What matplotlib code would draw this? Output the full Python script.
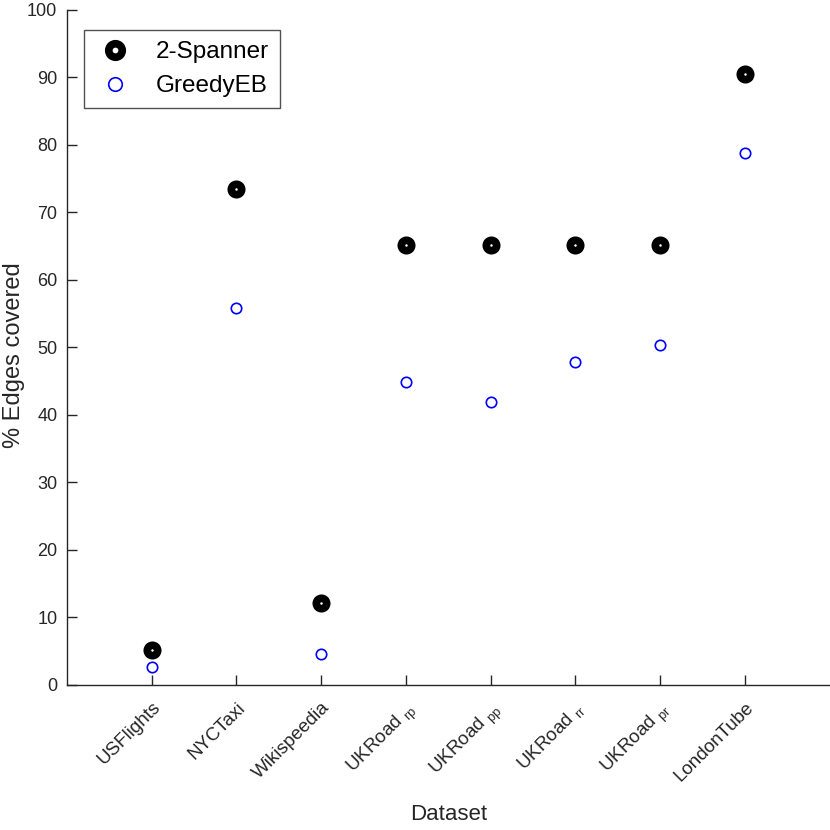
import matplotlib
matplotlib.use('Agg')
import matplotlib.pyplot as plt

# Data
datasets = ['USFlights', 'NYCTaxi', 'Wikispeedia',
            r'UKRoad $_{\mathregular{rp}}$', r'UKRoad $_{\mathregular{pp}}$',
            r'UKRoad $_{\mathregular{rr}}$', r'UKRoad $_{\mathregular{pr}}$',
            'LondonTube']
spanner = [5.2, 73.5, 12.1, 65.2, 65.2, 65.2, 65.2, 90.5]
greedy_eb = [2.7, 55.9, 4.6, 44.9, 41.9, 47.9, 50.4, 78.8]

plt.rcParams['font.family'] = ['Liberation Sans', 'DejaVu Sans']
plt.rcParams['mathtext.fontset'] = 'custom'
plt.rcParams['mathtext.rm'] = 'Liberation Sans'

fig = plt.figure(figsize=(8.3, 8.3), dpi=100)
ax = fig.add_axes([0.0807, 0.1747, 0.919, 0.8133])

x = list(range(1, len(datasets) + 1))
ax.plot(x, spanner, linestyle='none', marker='o', markersize=7.5,
        markerfacecolor='white', markeredgecolor='black',
        markeredgewidth=5.5, label='2-Spanner')
ax.plot(x, greedy_eb, linestyle='none', marker='o', markersize=7.5,
        markerfacecolor='none', markeredgecolor='#0000ff',
        markeredgewidth=1.2, label='GreedyEB')

ax.set_xlim(0, 9)
ax.set_ylim(0, 100)
ax.set_xticks(x)
ax.set_xticklabels(datasets, rotation=45, ha='right', rotation_mode='anchor',
                   fontsize=13.5)
ax.set_yticks(range(0, 101, 10))
ax.tick_params(axis='y', labelsize=13, pad=7)
ax.tick_params(direction='in', length=7, width=1, color='#262626',
               labelcolor='#262626')
ax.tick_params(axis='x', pad=10)

for side in ['top', 'right']:
    ax.spines[side].set_visible(False)
for side in ['left', 'bottom']:
    ax.spines[side].set_color('#262626')
    ax.spines[side].set_linewidth(1)

ax.set_xlabel('Dataset', fontsize=16, color='#262626', labelpad=14)
ax.set_ylabel('% Edges covered', fontsize=17, color='#262626')
ax.yaxis.set_label_coords(-0.055, 0.489)

leg = ax.legend(loc='upper left', bbox_to_anchor=(0.022, 0.970), fontsize=17.5,
                frameon=True, fancybox=False, edgecolor='#262626',
                borderaxespad=0, handletextpad=0.8, borderpad=0.45,
                labelspacing=0.5, handlelength=1.7, markerscale=1.3)
leg.get_frame().set_linewidth(1)

fig.savefig('out.png', dpi=100)
